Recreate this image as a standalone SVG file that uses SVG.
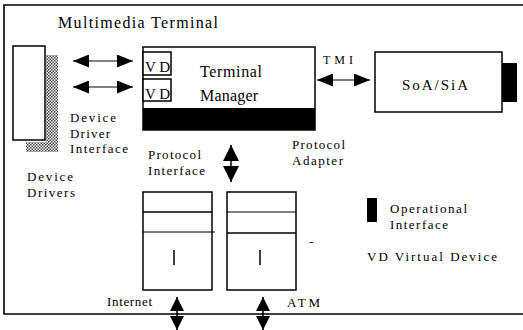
<svg xmlns="http://www.w3.org/2000/svg" width="523" height="330" viewBox="0 0 523 330">
<style>
.t{font-family:"Liberation Serif","Times New Roman",serif;fill:#000}
.box{fill:#fff;stroke:#000;stroke-width:1.5}
.thin{stroke:#000;stroke-width:1;fill:none}
.thick{stroke:#000;stroke-width:1.6;fill:none}
.arr{stroke:#000;stroke-width:1.2;fill:none;marker-start:url(#ah);marker-end:url(#ah)}
.varr{stroke:#000;stroke-width:1.5;fill:none;marker-start:url(#vh);marker-end:url(#vh)}
.varr2{stroke:#000;stroke-width:1.5;fill:none;marker-start:url(#vh2);marker-end:url(#vh2)}
</style>
<defs>
<pattern id="dith" width="3" height="3" patternUnits="userSpaceOnUse">
<rect width="3" height="3" fill="#fff"/>
<rect width="1.5" height="1.5" fill="#444"/>
<rect x="1.5" y="1.5" width="1.5" height="1.5" fill="#444"/>
</pattern>
<marker id="ah" viewBox="0 0 16 13" refX="16" refY="6.5" markerWidth="16" markerHeight="13" markerUnits="userSpaceOnUse" orient="auto-start-reverse">
<path d="M0,0 L16,6.5 L0,13 z" fill="#000"/>
</marker>
<marker id="vh" viewBox="0 0 14 14" refX="14" refY="7" markerWidth="14" markerHeight="14" markerUnits="userSpaceOnUse" orient="auto-start-reverse">
<path d="M0,0 L14,7 L0,14 z" fill="#000"/>
</marker>
<marker id="vh2" viewBox="0 0 16 16" refX="16" refY="8" markerWidth="16" markerHeight="16" markerUnits="userSpaceOnUse" orient="auto-start-reverse">
<path d="M0,0 L16,8 L0,16 z" fill="#000"/>
</marker>
</defs>

<g id="frame">
<path d="M523,5 H4 V314 H523" class="thick"/>
<text class="t" x="58" y="28" font-size="16" textLength="160" lengthAdjust="spacing">Multimedia Terminal</text>
</g>

<g id="device-drivers">
<rect x="46" y="55" width="12" height="97" fill="url(#dith)"/>
<rect x="26" y="142" width="32" height="10" fill="url(#dith)"/>
<rect x="13" y="46" width="32" height="94" class="box"/>
<text class="t" x="27" y="181" font-size="13" textLength="46" lengthAdjust="spacing">Device</text>
<text class="t" x="27" y="197" font-size="13" textLength="48" lengthAdjust="spacing">Drivers</text>
</g>

<g id="device-driver-interface">
<text class="t" x="70" y="122" font-size="13" textLength="46" lengthAdjust="spacing">Device</text>
<text class="t" x="70" y="138" font-size="13" textLength="40" lengthAdjust="spacing">Driver</text>
<text class="t" x="70" y="153" font-size="13" textLength="58" lengthAdjust="spacing">Interface</text>
</g>

<g id="terminal-manager">
<rect x="143" y="47" width="172" height="83" class="box"/>
<rect x="143" y="108" width="172" height="22" fill="#000"/>
<rect x="143" y="52" width="28" height="23" class="box"/>
<text class="t" x="145" y="72" font-size="15" textLength="25" lengthAdjust="spacing">VD</text>
<rect x="143" y="79" width="28" height="22" class="box"/>
<text class="t" x="145" y="99" font-size="15" textLength="25" lengthAdjust="spacing">VD</text>
<text class="t" x="200" y="77" font-size="16" textLength="62" lengthAdjust="spacing">Terminal</text>
<text class="t" x="200" y="101" font-size="16" textLength="58" lengthAdjust="spacing">Manager</text>
</g>

<g id="soa-sia">
<rect x="502" y="63" width="15" height="39" fill="#000"/>
<rect x="375" y="52" width="127" height="60" class="box"/>
<text class="t" x="402" y="90" font-size="15" textLength="66" lengthAdjust="spacing">SoA/SiA</text>
</g>

<g id="labels">
<text class="t" x="323" y="64" font-size="12" textLength="30" lengthAdjust="spacing">TMI</text>
<text class="t" x="292" y="149" font-size="13" textLength="53" lengthAdjust="spacing">Protocol</text>
<text class="t" x="292" y="165" font-size="13" textLength="51" lengthAdjust="spacing">Adapter</text>
<text class="t" x="148" y="159" font-size="13" textLength="53" lengthAdjust="spacing">Protocol</text>
<text class="t" x="148" y="175" font-size="13" textLength="57" lengthAdjust="spacing">Interface</text>
<text class="t" x="107" y="306" font-size="13" textLength="45" lengthAdjust="spacing">Internet</text>
<text class="t" x="287" y="307" font-size="13" textLength="33" lengthAdjust="spacing">ATM</text>
<text class="t" x="309" y="246" font-size="13">-</text>
</g>

<g id="stack-internet">
<rect x="143" y="192" width="69" height="98" class="box"/>
<line x1="143" y1="212" x2="212" y2="212" class="thick"/>
<line x1="143" y1="232" x2="215" y2="232" class="thin"/>
<line x1="174" y1="250" x2="174" y2="265" stroke="#000" stroke-width="1.5"/>
</g>

<g id="stack-atm">
<rect x="227" y="192" width="69" height="98" class="box"/>
<line x1="227" y1="212" x2="296" y2="212" class="thin"/>
<line x1="227" y1="233" x2="296" y2="233" class="thick"/>
<line x1="260" y1="250" x2="260" y2="265" stroke="#000" stroke-width="1.5"/>
</g>

<g id="legend">
<rect x="367" y="198" width="10" height="24" fill="#000"/>
<text class="t" x="390" y="213" font-size="13" textLength="77" lengthAdjust="spacing">Operational</text>
<text class="t" x="390" y="229" font-size="13" textLength="58" lengthAdjust="spacing">Interface</text>
<text class="t" x="367" y="261" font-size="13" textLength="130" lengthAdjust="spacing">VD  Virtual Device</text>
</g>

<g id="connectors">
<line x1="73" y1="61" x2="133" y2="61" class="arr"/>
<line x1="73" y1="87" x2="133" y2="87" class="arr"/>
<line x1="317" y1="80" x2="370" y2="80" class="arr"/>
<line x1="231" y1="145" x2="231" y2="182" class="varr2"/>
<line x1="177" y1="297" x2="177" y2="330" class="varr"/>
<line x1="263" y1="297" x2="263" y2="330" class="varr"/>
</g>
</svg>
